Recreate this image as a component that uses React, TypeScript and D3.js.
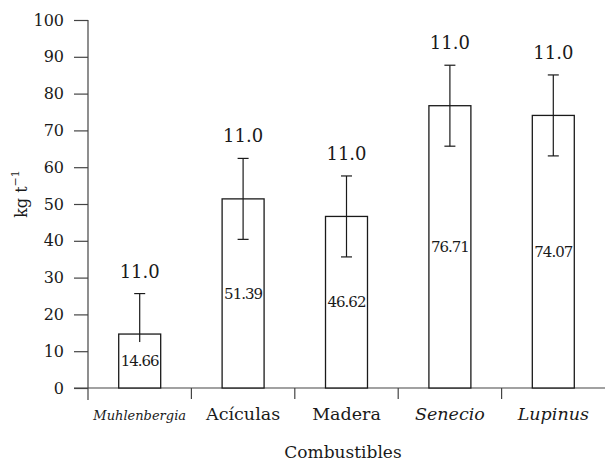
import { useEffect, useRef } from 'react';
import { select, scaleBand, scaleLinear, axisLeft, axisBottom } from 'd3';

const categories = ['Muhlenbergia', 'Acículas', 'Madera', 'Senecio', 'Lupinus'];
const italicCategories = ['Muhlenbergia', 'Senecio', 'Lupinus'];
const means = [14.66, 51.39, 46.62, 76.71, 74.07];
const errors = [11.0, 11.0, 11.0, 11.0, 11.0];
const yTicks = [0, 10, 20, 30, 40, 50, 60, 70, 80, 90, 100];

const FONT = "'DejaVu Serif', 'Liberation Serif', 'Times New Roman', serif";

export default function App() {
  const svgRef = useRef<SVGSVGElement>(null);

  useEffect(() => {
    if (!svgRef.current) return;
    const svg = select(svgRef.current);
    svg.selectAll('*').remove();

    const width = 605;
    const height = 463;
    const left = 88;
    const top = 20;
    const bottom = 388;

    const x = scaleBand<string>()
      .domain(categories)
      .range([left, width])
      .paddingInner(0.594)
      .paddingOuter(0.297);

    const y = scaleLinear().domain([0, 100]).range([bottom, top]);

    const axisColor = '#444';
    const ink = '#1a1a1a';

    svg.attr('width', width).attr('height', height).attr('font-family', FONT);

    // y axis
    const yAxis = svg
      .append('g')
      .attr('transform', `translate(${left},0)`)
      .call(axisLeft(y).tickValues(yTicks).tickSize(14).tickPadding(10).tickSizeOuter(0))
      .attr('font-family', FONT)
      .attr('font-size', 16);
    yAxis.select('.domain').remove();
    yAxis.selectAll('line').attr('stroke', axisColor).attr('stroke-width', 1.2);
    yAxis.selectAll('text').attr('fill', ink);
    svg
      .append('line')
      .attr('x1', left)
      .attr('x2', left)
      .attr('y1', top)
      .attr('y2', bottom + 12)
      .attr('stroke', axisColor)
      .attr('stroke-width', 1.2);

    // x axis
    const xAxis = svg
      .append('g')
      .attr('transform', `translate(0,${bottom})`)
      .call(axisBottom(x).tickSize(0).tickSizeOuter(0))
      .attr('font-family', FONT)
      .attr('font-size', 17.5);
    xAxis.select('.domain').remove();
    xAxis
      .selectAll<SVGTextElement, string>('text')
      .attr('y', 32)
      .attr('dy', 0)
      .attr('fill', ink)
      .attr('font-style', (d) => (italicCategories.includes(d) ? 'italic' : 'normal'))
      .attr('font-size', (d) => (d === 'Muhlenbergia' ? 13 : 17.5));
    svg
      .append('line')
      .attr('x1', left - 14)
      .attr('x2', width)
      .attr('y1', bottom)
      .attr('y2', bottom)
      .attr('stroke', axisColor)
      .attr('stroke-width', 1.2);

    // tick marks between categories
    const gap = (x.step() - x.bandwidth()) / 2;
    svg
      .append('g')
      .selectAll('line')
      .data(categories.slice(1))
      .enter()
      .append('line')
      .attr('x1', (d) => (x(d) || 0) - gap)
      .attr('x2', (d) => (x(d) || 0) - gap)
      .attr('y1', bottom)
      .attr('y2', bottom + 11)
      .attr('stroke', axisColor)
      .attr('stroke-width', 1.2);

    const rows = categories.map((c, i) => ({ c, v: means[i], e: errors[i] }));

    // bars
    svg
      .append('g')
      .selectAll('rect')
      .data(rows)
      .enter()
      .append('rect')
      .attr('x', (d) => x(d.c) || 0)
      .attr('y', (d) => y(d.v))
      .attr('width', x.bandwidth())
      .attr('height', (d) => bottom - y(d.v))
      .attr('fill', 'white')
      .attr('stroke', ink)
      .attr('stroke-width', 1.3);

    // error bars
    const eb = svg.append('g').attr('stroke', ink).attr('stroke-width', 1.2);
    const cx = (c: string) => (x(c) || 0) + x.bandwidth() / 2;
    eb.selectAll('.stem')
      .data(rows)
      .enter()
      .append('line')
      .attr('x1', (d) => cx(d.c))
      .attr('x2', (d) => cx(d.c))
      .attr('y1', (d) => y(d.v + d.e))
      .attr('y2', (d) => y(Math.max(0, d.v - d.e)));
    eb.selectAll('.capTop')
      .data(rows)
      .enter()
      .append('line')
      .attr('x1', (d) => cx(d.c) - 5.5)
      .attr('x2', (d) => cx(d.c) + 5.5)
      .attr('y1', (d) => y(d.v + d.e))
      .attr('y2', (d) => y(d.v + d.e));
    eb.selectAll('.capBot')
      .data(rows)
      .enter()
      .append('line')
      .attr('x1', (d) => cx(d.c) - 5.5)
      .attr('x2', (d) => cx(d.c) + 5.5)
      .attr('y1', (d) => y(Math.max(0, d.v - d.e)))
      .attr('y2', (d) => y(Math.max(0, d.v - d.e)));

    // value labels inside bars, on a white patch
    const lab = svg.append('g');
    lab
      .selectAll('rect')
      .data(rows)
      .enter()
      .append('rect')
      .attr('x', (d) => (x(d.c) || 0) + 1.5)
      .attr('width', x.bandwidth() - 3)
      .attr('y', (d) => (y(d.v) + bottom) / 2 - 19)
      .attr('height', 38)
      .attr('fill', 'white');
    lab
      .selectAll('text')
      .data(rows)
      .enter()
      .append('text')
      .attr('x', (d) => cx(d.c))
      .attr('y', (d) => (y(d.v) + bottom) / 2)
      .attr('dy', '0.35em')
      .attr('text-anchor', 'middle')
      .attr('fill', ink)
      .attr('font-size', 15)
      .attr('letter-spacing', -1)
      .text((d) => d.v.toFixed(2));

    // error labels above caps
    svg
      .append('g')
      .selectAll('text')
      .data(rows)
      .enter()
      .append('text')
      .attr('x', (d) => cx(d.c))
      .attr('y', (d) => y(d.v + d.e) - 16)
      .attr('text-anchor', 'middle')
      .attr('fill', ink)
      .attr('font-size', 18)
      .text((d) => d.e.toFixed(1));

    // axis titles
    const yt = svg
      .append('text')
      .attr('transform', 'translate(27,194) rotate(-90)')
      .attr('text-anchor', 'middle')
      .attr('fill', ink)
      .attr('font-size', 16);
    yt.append('tspan').text('kg t');
    yt.append('tspan').attr('dy', -8).attr('font-size', 11).text('−1');

    svg
      .append('text')
      .attr('x', 343)
      .attr('y', 458)
      .attr('text-anchor', 'middle')
      .attr('fill', ink)
      .attr('font-size', 17)
      .text('Combustibles');
  }, []);

  return (
    <div style={{ position: 'absolute', left: 0, top: 0 }}>
      <svg ref={svgRef} style={{ display: 'block' }} />
    </div>
  );
}
